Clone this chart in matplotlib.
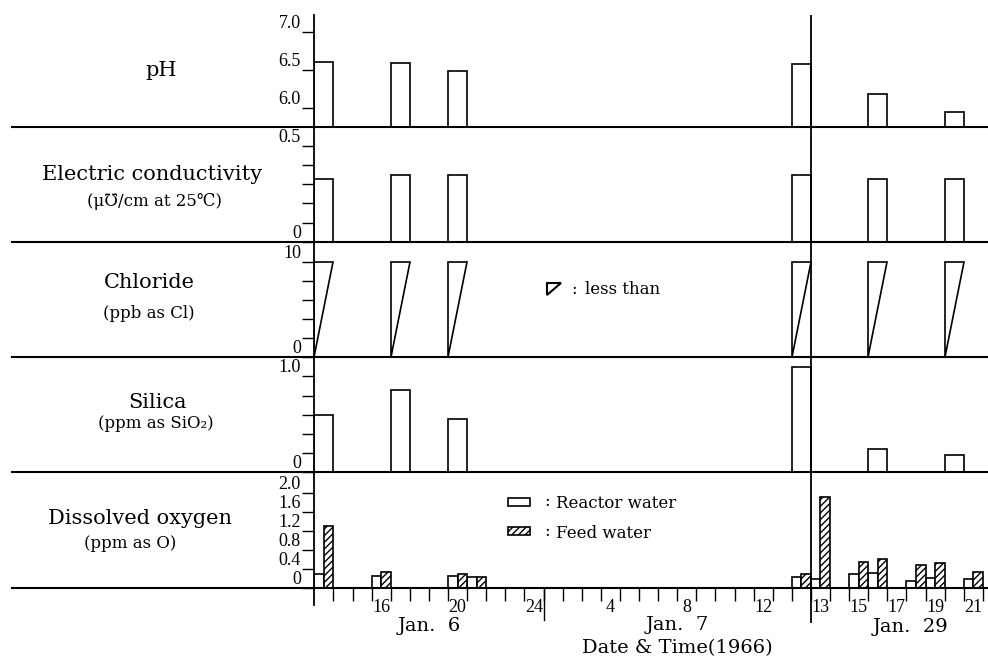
import matplotlib
matplotlib.use("Agg")
import matplotlib.pyplot as plt
from matplotlib.lines import Line2D
from matplotlib.patches import Rectangle, Polygon

# hour slots (one slot = one hour, 0 = 13 h of Jan. 6)
sample_slots = [0, 4, 7, 25, 29, 33]
ph = [6.60, 6.59, 6.49, 6.58, 6.19, 5.95]
conductivity = [0.33, 0.35, 0.35, 0.35, 0.33, 0.33]
chloride_lt = [10, 10, 10, 10, 10, 10]  # "less than" values
silica = [0.60, 0.86, 0.56, 1.10, 0.24, 0.18]

do_slots = [0, 3, 7, 8, 25, 26, 28, 29, 31, 32, 34]
do_reactor = [0.28, 0.25, 0.25, 0.23, 0.22, 0.19, 0.29, 0.30, 0.15, 0.20, 0.19]
do_feed = [1.30, 0.34, 0.28, 0.22, 0.29, 1.90, 0.55, 0.60, 0.48, 0.52, 0.34]

hour_labels = ["16", "20", "24", "4", "8", "12", "13", "15", "17", "19", "21"]
hour_label_slots = [3, 7, 11, 15, 19, 23, 26, 28, 30, 32, 34]
midnight_slot = 12
break_slot = 26

W, H = 988, 657
X0, PX = 314.3, 19.1
XMAX = (W - X0) / PX

SERIF = ["DejaVu Serif", "DejaVu Sans", "Noto Sans CJK JP"]


def fx(x):
    return x / W


def fy(y):
    return 1 - y / H


def make_panel(fig, top, bottom, ylim, ticks, labels):
    ax = fig.add_axes([fx(X0), fy(bottom), fx(W) - fx(X0), (bottom - top) / H])
    ax.set_xlim(0, XMAX)
    ax.set_ylim(*ylim)
    ax.patch.set_alpha(0)
    for s in ["top", "right", "bottom"]:
        ax.spines[s].set_visible(False)
    ax.spines["left"].set_linewidth(1.3)
    ax.tick_params(axis="x", bottom=False, labelbottom=False)
    ax.set_yticks(ticks)
    ax.set_yticklabels(labels, family="Liberation Serif", fontsize=13)
    ax.tick_params(axis="y", direction="out", length=8.6, width=1, pad=1)
    for t in ax.get_yticklabels():
        t.set_verticalalignment("bottom")
    ax.axvline(break_slot, color="black", lw=1.3)
    return ax


fig = plt.figure(figsize=(W / 100, H / 100), dpi=100)

bar_kw = dict(align="edge", facecolor="white", edgecolor="black", linewidth=1.2)

# pH
ax1 = make_panel(fig, 15, 127.3, (5.75, 7.22), [6.0, 6.5, 7.0], ["6.0", "6.5", "7.0"])
ax1.bar(sample_slots, [v - 5.75 for v in ph], width=1, bottom=5.75, **bar_kw)

# conductivity
ax2 = make_panel(fig, 127.3, 241.7, (0, 0.598), [0, 0.1, 0.2, 0.3, 0.4, 0.5],
                 ["0", "", "", "", "", "0.5"])
ax2.bar(sample_slots, conductivity, width=1, **bar_kw)

# chloride ("less than" triangles)
ax3 = make_panel(fig, 241.7, 357.3, (0, 12.09), [0, 2, 4, 6, 8, 10],
                 ["0", "", "", "", "", "10"])
for s, v in zip(sample_slots, chloride_lt):
    ax3.fill([s, s, s + 1], [0, v, v], facecolor="white", edgecolor="black", lw=1.2)

# silica
ax4 = make_panel(fig, 357.3, 472.3, (0, 1.2), [0, 0.2, 0.4, 0.6, 0.8, 1.0],
                 ["0", "", "", "", "", "1.0"])
ax4.bar(sample_slots, silica, width=1, **bar_kw)

# dissolved oxygen
ax5 = make_panel(fig, 472.3, 587.7, (0, 2.43), [0, 0.4, 0.8, 1.2, 1.6, 2.0],
                 ["0", "0.4", "0.8", "1.2", "1.6", "2.0"])
ax5.bar(do_slots, do_reactor, width=0.5, **bar_kw)
ax5.bar([s + 0.5 for s in do_slots], do_feed, width=0.5, hatch="/////", **bar_kw)

ax5.tick_params(axis="x", which="major", bottom=True, direction="out", length=9, width=1)
ax5.set_xticks(range(1, 36))
ax5.set_xticklabels([])
ax5.set_xticks([s + 0.5 for s in hour_label_slots], minor=True)
ax5.set_xticklabels(hour_labels, minor=True, family="Liberation Serif", fontsize=13)
ax5.tick_params(axis="x", which="minor", bottom=True, labelbottom=True, length=0, pad=8)

xt = ax5.get_xaxis_transform()
ax5.plot([0, 0], [0, -0.15], transform=xt, color="black", lw=1.3, clip_on=False)
ax5.plot([midnight_slot] * 2, [0, -0.28], transform=xt, color="black", lw=1, clip_on=False)
ax5.plot([break_slot] * 2, [0, -0.3], transform=xt, color="black", lw=1.3, clip_on=False)

# panel separator lines
for y in [127.3, 241.7, 357.3, 472.3, 587.7]:
    fig.add_artist(Line2D([fx(12), 1], [fy(y), fy(y)], color="black", lw=1.5))

# left titles
titles = [
    ("pH", 161, 70, 15), ("Electric conductivity", 152, 174, 15),
    ("(\u03bc\u2127/cm at 25\u2103)", 154, 202, 12),
    ("Chloride", 149, 283, 15), ("(ppb as Cl)", 149, 313, 12),
    ("Silica", 157, 402, 15), ("(ppm as SiO\u2082)", 156, 423, 12),
    ("Dissolved oxygen", 140, 518, 15), ("(ppm as O)", 130, 544, 12),
]
for txt, x, y, size in titles:
    fig.text(fx(x), fy(y), txt, ha="center", va="center", family=SERIF, fontsize=size)

# legends
fig.add_artist(Polygon([(fx(547), fy(283)), (fx(561), fy(283)), (fx(547), fy(295))],
                       closed=True, facecolor="white", edgecolor="black", lw=1.5))
fig.text(fx(571), fy(289), ":", ha="left", va="center", family=SERIF, fontsize=12)
fig.text(fx(585), fy(290), "less than", ha="left", va="center", family=SERIF, fontsize=12)

fig.add_artist(Rectangle((fx(508), fy(505.5)), fx(22), 8 / H, facecolor="white",
                         edgecolor="black", lw=1.2))
fig.add_artist(Rectangle((fx(508), fy(534.5)), fx(22), 8 / H, facecolor="white",
                         edgecolor="black", lw=1.2, hatch="/////"))
fig.text(fx(544), fy(502), ":", ha="left", va="center", family=SERIF, fontsize=12)
fig.text(fx(556), fy(503), "Reactor water", ha="left", va="center", family=SERIF, fontsize=12)
fig.text(fx(544), fy(531), ":", ha="left", va="center", family=SERIF, fontsize=12)
fig.text(fx(556), fy(533), "Feed water", ha="left", va="center", family=SERIF, fontsize=12)

# date labels
for txt, x, y in [("Jan.  6", 429, 626), ("Jan.  7", 677, 625), ("Jan.  29", 910, 627),
                  ("Date & Time(1966)", 677, 648)]:
    fig.text(fx(x), fy(y), txt, ha="center", va="center", family=SERIF, fontsize=14)

fig.savefig("out.png", dpi=100)
